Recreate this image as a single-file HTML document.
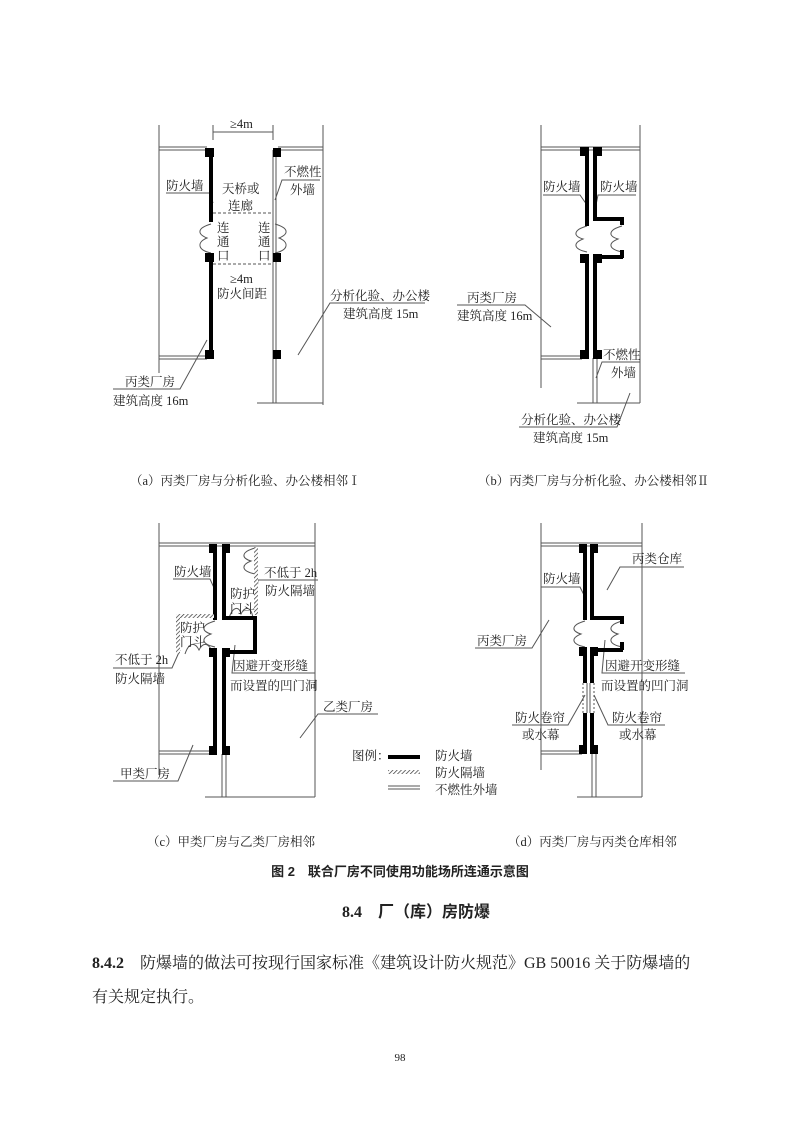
<!DOCTYPE html>
<html><head><meta charset="utf-8"><style>
html,body{margin:0;padding:0;background:#fff}
svg{display:block}
text{font-family:"Liberation Serif","Noto Serif CJK SC","Noto Sans CJK SC",serif;fill:#222}
.s{font-size:12.5px}
</style></head><body>
<svg width="800" height="1137" viewBox="0 0 800 1137" xmlns="http://www.w3.org/2000/svg">
<defs>
<pattern id="h" width="3" height="3" patternUnits="userSpaceOnUse" patternTransform="rotate(45)"><rect width="3" height="3" fill="#fff"/><line x1="0" y1="0" x2="0" y2="3" stroke="#333" stroke-width="1.4"/></pattern>
</defs>
<g stroke="#555" stroke-width="1" fill="none">
<!-- (a) -->
<line x1="159" y1="125" x2="159" y2="373"/><line x1="323" y1="125" x2="323" y2="405"/>
<line x1="159" y1="147" x2="207" y2="147"/><line x1="159" y1="150" x2="207" y2="150"/>
<line x1="278" y1="147" x2="323" y2="147"/><line x1="278" y1="150" x2="323" y2="150"/>
<line x1="159" y1="356" x2="207" y2="356"/><line x1="159" y1="359" x2="207" y2="359"/>
<line x1="273" y1="150" x2="273" y2="403"/><line x1="276" y1="150" x2="276" y2="403"/>
<line x1="257" y1="403" x2="323" y2="403"/>
<line x1="213" y1="132" x2="273" y2="132"/><line x1="213" y1="125" x2="213" y2="140"/><line x1="273" y1="125" x2="273" y2="140"/>
<line x1="213" y1="213" x2="273" y2="213" stroke-dasharray="3,2"/><line x1="213" y1="264" x2="273" y2="264" stroke-dasharray="3,2"/>
<!-- (b) -->
<line x1="541" y1="125" x2="541" y2="388"/><line x1="640" y1="125" x2="640" y2="403"/>
<line x1="541" y1="147" x2="640" y2="147"/><line x1="541" y1="150" x2="640" y2="150"/>
<line x1="541" y1="356" x2="582" y2="356"/><line x1="541" y1="359" x2="582" y2="359"/>
<line x1="593" y1="358" x2="593" y2="403"/><line x1="597" y1="358" x2="597" y2="403"/>
<line x1="577" y1="403" x2="640" y2="403"/>
<!-- (c) -->
<line x1="159" y1="523" x2="159" y2="775"/><line x1="315" y1="523" x2="315" y2="797"/>
<line x1="159" y1="543" x2="315" y2="543"/><line x1="159" y1="546" x2="315" y2="546"/>
<line x1="159" y1="751" x2="210" y2="751"/><line x1="159" y1="754" x2="210" y2="754"/>
<line x1="222" y1="754" x2="222" y2="797"/><line x1="226" y1="754" x2="226" y2="797"/>
<line x1="205" y1="797" x2="315" y2="797"/>
<!-- (d) -->
<line x1="541" y1="523" x2="541" y2="770"/><line x1="642" y1="523" x2="642" y2="797"/>
<line x1="541" y1="543" x2="642" y2="543"/><line x1="541" y1="546" x2="642" y2="546"/>
<line x1="541" y1="751" x2="582" y2="751"/><line x1="541" y1="754" x2="582" y2="754"/>
<line x1="592" y1="754" x2="592" y2="797"/><line x1="596" y1="754" x2="596" y2="797"/>
<line x1="577" y1="797" x2="642" y2="797"/>
<!-- curtains -->
<line x1="583" y1="683" x2="583" y2="713" stroke-dasharray="2,2"/><line x1="587" y1="683" x2="587" y2="713"/>
<line x1="590" y1="683" x2="590" y2="713"/><line x1="594" y1="683" x2="594" y2="713" stroke-dasharray="2,2"/>
<!-- legend -->
<line x1="388" y1="786" x2="420" y2="786"/><line x1="388" y1="789" x2="420" y2="789"/>
<!-- doors (arcs) -->
<path d="M211 224 c-14 4 -14 10 -4 14 c-10 4 -10 12 4 15"/><path d="M275 224 c14 4 14 10 4 14 c10 4 10 12 -4 15"/>
<path d="M587 226 c-14 4 -14 10 -4 13 c-10 4 -10 10 4 13"/>
<path d="M622 226 c-14 4 -14 10 -4 13 c-10 4 -10 10 4 13"/>
<path d="M585 621 c-14 4 -14 10 -4 13 c-10 4 -10 10 4 13"/><path d="M622 621 c-14 4 -14 10 -4 13 c-10 4 -10 10 4 13"/>
<path d="M215 621 c-14 4 -14 10 -4 13 c-10 4 -10 10 4 13"/><path d="M185 654 c4 -12 10 -12 14 -4 c4 -8 10 -8 14 4"/>
<path d="M229 618 c4 -12 10 -12 12 -4 c4 -8 10 -8 12 4"/>
<path d="M255 548 c-14 4 -14 10 -4 13 c-10 4 -10 10 4 13"/>
<!-- leaders -->
<polyline points="166,193 210,193 213,203"/><polyline points="320,180 282,180 275,200"/>
<polyline points="425,303 330,303 298,355"/><polyline points="113,389 180,389 207,340"/>
<polyline points="543,195 580,195 587,205"/><polyline points="636,195 598,195 595,210"/>
<polyline points="457,305 525,305 551,327"/><polyline points="640,362 602,362 596,378"/>
<polyline points="519,427 617,427 630,393"/>
<polyline points="173,579 210,579 215,590"/><polyline points="318,580 258,580 256,600"/>
<polyline points="113,668 172,668 180,650"/><polyline points="315,673 232,673 235,645"/>
<polyline points="378,714 318,714 300,738"/><polyline points="113,781 178,781 193,745"/>
<polyline points="684,567 620,567 607,590"/><polyline points="541,587 580,587 585,597"/>
<polyline points="475,648 532,648 549,620"/><polyline points="685,673 602,673 605,640"/>
<polyline points="512,725 568,725 585,695"/><polyline points="665,725 608,725 594,695"/>
</g>
<g fill="#000">
<rect x="209" y="148" width="4" height="74"/><rect x="209" y="258" width="4" height="100"/>
<rect x="205" y="148" width="9" height="9"/><rect x="205" y="253" width="9" height="9"/><rect x="205" y="350" width="9" height="9"/>
<rect x="273" y="148" width="8" height="9"/><rect x="273" y="253" width="8" height="9"/><rect x="273" y="350" width="8" height="9"/>
<rect x="585" y="148" width="4" height="78"/><rect x="585" y="255" width="4" height="103"/>
<rect x="593" y="148" width="4" height="73"/><rect x="593" y="217" width="30" height="4"/><rect x="620" y="217" width="4" height="8"/>
<rect x="593" y="255" width="30" height="4"/><rect x="620" y="250" width="4" height="8"/><rect x="593" y="255" width="4" height="103"/>
<rect x="580" y="147" width="9" height="9"/><rect x="593" y="147" width="9" height="9"/>
<rect x="580" y="254" width="9" height="9"/><rect x="593" y="254" width="9" height="9"/>
<rect x="580" y="350" width="9" height="9"/><rect x="593" y="350" width="9" height="9"/>
<rect x="213" y="546" width="4" height="74"/><rect x="213" y="650" width="4" height="102"/>
<rect x="222" y="546" width="4" height="74"/><rect x="222" y="616" width="35" height="4"/><rect x="253" y="616" width="4" height="38"/>
<rect x="222" y="650" width="35" height="4"/><rect x="222" y="650" width="4" height="102"/>
<rect x="209" y="544" width="8" height="9"/><rect x="222" y="544" width="8" height="9"/>
<rect x="209" y="648" width="8" height="9"/><rect x="222" y="648" width="8" height="9"/>
<rect x="209" y="746" width="8" height="9"/><rect x="222" y="746" width="8" height="9"/>
<rect x="583" y="546" width="4" height="74"/><rect x="583" y="648" width="4" height="35"/><rect x="583" y="713" width="4" height="39"/>
<rect x="590" y="546" width="4" height="74"/><rect x="590" y="616" width="33" height="4"/><rect x="620" y="616" width="4" height="8"/>
<rect x="590" y="648" width="33" height="4"/><rect x="620" y="642" width="4" height="8"/>
<rect x="590" y="648" width="4" height="35"/><rect x="590" y="713" width="4" height="39"/>
<rect x="579" y="544" width="8" height="9"/><rect x="590" y="544" width="8" height="9"/>
<rect x="579" y="647" width="8" height="9"/><rect x="590" y="647" width="8" height="9"/>
<rect x="579" y="745" width="8" height="9"/><rect x="590" y="745" width="8" height="9"/>
<rect x="388" y="755" width="32" height="4"/>
</g>
<g fill="url(#h)">
<rect x="254" y="547" width="4" height="68"/><rect x="176" y="614" width="38" height="4"/><rect x="176" y="614" width="4" height="40"/>
<rect x="388" y="770" width="32" height="4"/>
</g>
<g class="s">
<text x="230" y="128">≥4m</text>
<text x="166" y="190">防火墙</text>
<text x="222" y="193">天桥或</text><text x="228" y="210">连廊</text>
<text x="284" y="176">不燃性</text><text x="290" y="194">外墙</text>
<text x="217" y="232">连</text><text x="217" y="246">通</text><text x="217" y="260">口</text>
<text x="258" y="232">连</text><text x="258" y="246">通</text><text x="258" y="260">口</text>
<text x="230" y="283">≥4m</text><text x="217" y="298">防火间距</text>
<text x="330" y="300">分析化验、办公楼</text><text x="343" y="318">建筑高度 15m</text>
<text x="125" y="386">丙类厂房</text><text x="113" y="405">建筑高度 16m</text>
<text x="543" y="191">防火墙</text><text x="600" y="191">防火墙</text>
<text x="467" y="302">丙类厂房</text><text x="457" y="320">建筑高度 16m</text>
<text x="603" y="359">不燃性</text><text x="611" y="377">外墙</text>
<text x="521" y="424">分析化验、办公楼</text><text x="533" y="442">建筑高度 15m</text>
<text x="174" y="576">防火墙</text>
<text x="264" y="577">不低于 2h</text><text x="265" y="595">防火隔墙</text>
<text x="230" y="598">防护</text><text x="230" y="613">门斗</text>
<text x="180" y="632">防护</text><text x="180" y="646">门斗</text>
<text x="115" y="664">不低于 2h</text><text x="115" y="683">防火隔墙</text>
<text x="233" y="670">因避开变形缝</text><text x="230" y="690">而设置的凹门洞</text>
<text x="323" y="711">乙类厂房</text><text x="120" y="778">甲类厂房</text>
<text x="352" y="760">图例：</text><text x="435" y="760">防火墙</text><text x="435" y="777">防火隔墙</text><text x="435" y="794">不燃性外墙</text>
<text x="632" y="563">丙类仓库</text><text x="543" y="583">防火墙</text><text x="477" y="645">丙类厂房</text>
<text x="605" y="670">因避开变形缝</text><text x="601" y="690">而设置的凹门洞</text>
<text x="515" y="722">防火卷帘</text><text x="522" y="739">或水幕</text>
<text x="612" y="722">防火卷帘</text><text x="619" y="739">或水幕</text>
<text x="130" y="485">（a）丙类厂房与分析化验、办公楼相邻Ⅰ</text>
<text x="478" y="485">（b）丙类厂房与分析化验、办公楼相邻Ⅱ</text>
<text x="147" y="846">（c）甲类厂房与乙类厂房相邻</text>
<text x="508" y="846">（d）丙类厂房与丙类仓库相邻</text>
</g>
<text x="400" y="876" font-size="13" font-weight="bold" text-anchor="middle" style="font-family:'Liberation Sans','Noto Sans CJK SC',sans-serif">图 2　联合厂房不同使用功能场所连通示意图</text>
<text x="416" y="917" font-size="16" font-weight="bold" text-anchor="middle" style="font-family:'Liberation Serif','Noto Sans CJK SC',sans-serif">8.4　厂（库）房防爆</text>
<text x="92" y="968" font-size="16"><tspan font-weight="bold">8.4.2</tspan>　防爆墙的做法可按现行国家标准《建筑设计防火规范》GB 50016 关于防爆墙的</text>
<text x="92" y="1002" font-size="16">有关规定执行。</text>
<text x="400" y="1061" font-size="11" text-anchor="middle">98</text>
</svg>
</body></html>
